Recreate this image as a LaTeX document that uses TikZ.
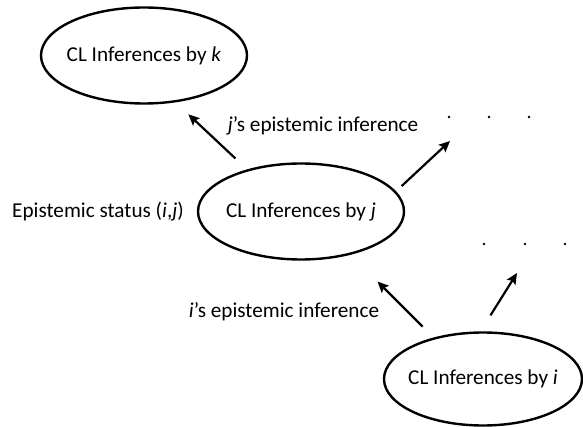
\documentclass[tikz,border=0pt]{standalone}
\usepackage{fontspec}
\setmainfont{Carlito}
\usetikzlibrary{shapes.geometric,arrows.meta}
\tikzset{
  ell/.style={ellipse, draw, line width=2.4pt, minimum width=206pt, minimum height=96pt, inner sep=0pt},
  arr/.style={line width=2.2pt, -{Stealth[length=11pt,width=10pt,inset=2pt]}},
  lbl/.style={inner sep=0pt},
  dot/.style={circle, fill, inner sep=0pt, minimum size=2.8pt},
}
\newcommand{\zb}[1]{\makebox[0pt]{#1}}
\begin{document}
\begin{tikzpicture}[x=1pt,y=-1pt,font=\fontsize{21.2}{25}\selectfont]
\useasboundingbox (0,0) rectangle (583,427);
\node[ell] (k) at (144,55.5) {\zb{CL Inferences by \textit{k}}};
\node[ell] (j) at (301,211.5) {\zb{CL Inferences by \textit{j}}};
\node[ell, minimum width=198pt, minimum height=93pt] (i) at (483,379) {\zb{CL Inferences by \textit{i}}};
\node[lbl] (lj) at (323,126) {\textit{j}’s epistemic inference};
\node[lbl] (li) at (284,312) {\textit{i}’s epistemic inference};
\node[lbl] (st) at (98,212) {Epistemic status (\textit{i},\textit{j})};
\node[dot] (u1) at (449,117) {};
\node[dot] (u2) at (489,117) {};
\node[dot] (u3) at (529,117) {};
\node[dot] (w1) at (484,244) {};
\node[dot] (w2) at (525,244) {};
\node[dot] (w3) at (565,244) {};
\coordinate (hu) at (450,141);
\coordinate (hw) at (517,273);
\draw[arr, shorten <=16pt, shorten >=17.5pt] (j.142.7) -- (k.-56.5);
\draw[arr, shorten <=7.7pt] (j.12.95) -- (hu);
\draw[arr, shorten <=15.5pt, shorten >=37.9pt] (i.140.4) -- (j.-41);
\draw[arr, shorten <=18.8pt] (i.93.7) -- (hw);
\end{tikzpicture}
\end{document}
